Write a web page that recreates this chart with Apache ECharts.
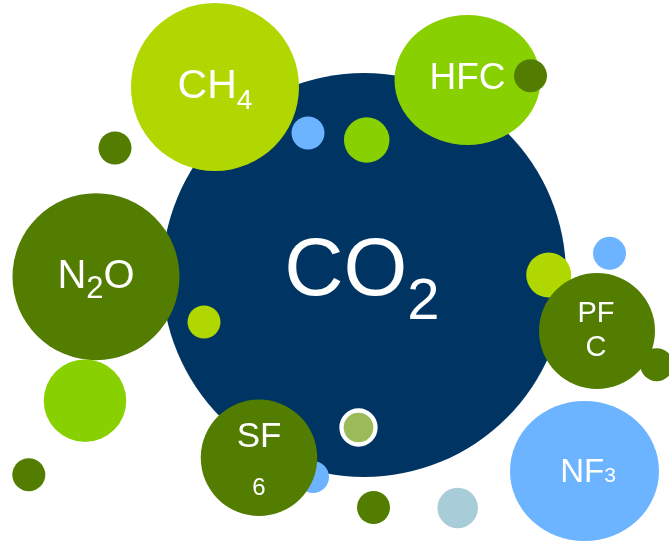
<!DOCTYPE html>
<html>
<head>
<meta charset="utf-8">
<style>
  html, body { margin: 0; padding: 0; background: #ffffff; }
  #chart { width: 669px; height: 542px; }
</style>
<script src="https://cdn.jsdelivr.net/npm/echarts@6/dist/echarts.min.js"></script>
</head>
<body>
<div id="chart"></div>
<script>
// ---- data (drawing order = stacking order) ----
const bubbleNames = ['CO2', 'dot1', 'dot2', 'CH4', 'HFC', 'dot3', 'dot4', 'dot5', 'dot6', 'N2O', 'dot7', 'dot8', 'dot9', 'SF6', 'dot10', 'dot11', 'dot12', 'NF3', 'dot13', 'PFC', 'dot14'];
const bubbleX     = [364, 313, 548.7, 215, 467.5, 530.5, 308, 366.7, 115, 96, 204, 85, 28.8, 259, 358.5, 373.5, 457.7, 584.5, 609.5, 597, 656.7];
const bubbleY     = [275, 477, 275, 87, 80, 75.7, 133, 140, 148, 276.7, 322, 400.7, 474.7, 457.7, 427.5, 507.5, 508, 471, 253.3, 331, 364.7];
const bubbleW     = [404, 32, 45, 168, 146, 33, 33, 45.5, 33, 167, 33, 82.5, 33, 116.5, 34, 33, 40.5, 149, 33, 116, 33];
const bubbleH     = [404, 32, 45, 168, 130, 33, 33, 45.5, 33, 167, 33, 82.5, 33, 116.5, 34, 33, 40.5, 140, 33, 116, 33];
const bubbleGroup = ['navy', 'sky', 'lime', 'lime', 'green', 'olive', 'sky', 'green', 'olive', 'olive', 'lime', 'green', 'olive', 'olive', 'ring', 'olive', 'mist', 'sky', 'sky', 'olive', 'olive'];

// ---- styles ----
const palette = {
  navy: '#003462', lime: '#b0d800', green: '#88d000', olive: '#527d00',
  sky: '#6cb4ff', mist: '#a8ccd8', ring: '#9bbb59'
};
const FONT = '"Liberation Sans", Arial, sans-serif';
const labelStyles = {
  CO2: { formatter: '{m|CO}{s|2}', offset: [-2, -3],
         rich: { m: { fontSize: 82 }, s: { fontSize: 58, padding: [62, 0, 0, 0] } } },
  CH4: { formatter: '{m|CH}{s|4}', offset: [0, 0],
         rich: { m: { fontSize: 41 }, s: { fontSize: 28, padding: [29, 0, 0, 0] } } },
  N2O: { formatter: '{m|N}{s|2}{m|O}', offset: [0, 0],
         rich: { m: { fontSize: 40 }, s: { fontSize: 31, padding: [26, 0, 0, 0] } } },
  HFC: { formatter: '{m|HFC}', offset: [0, -1],
         rich: { m: { fontSize: 37 } } },
  NF3: { formatter: '{m|NF}{s|3}', offset: [3.5, 2],
         rich: { m: { fontSize: 33 }, s: { fontSize: 21, padding: [7, 0, 0, 0] } } },
  PFC: { formatter: '{m|PF}\n{m|C}', offset: [-1, 0],
         rich: { m: { fontSize: 29, lineHeight: 33.4 } } },
  SF6: { formatter: '{m|SF}\n{s|6}', offset: [0, 5],
         rich: { m: { fontSize: 35, lineHeight: 51 }, s: { fontSize: 24, lineHeight: 51 } } }
};

const data = bubbleNames.map((name, i) => {
  const g = bubbleGroup[i];
  const item = {
    name: name,
    value: [bubbleX[i], bubbleY[i]],
    symbolSize: [bubbleW[i], bubbleH[i]],
    itemStyle: { color: palette[g], opacity: 1 }
  };
  if (g === 'ring') {
    item.itemStyle.borderColor = '#ffffff';
    item.itemStyle.borderWidth = 4.3;
  }
  const ls = labelStyles[name];
  if (ls) {
    const rich = {};
    Object.keys(ls.rich).forEach(k => {
      rich[k] = Object.assign({ color: '#ffffff', fontFamily: FONT }, ls.rich[k]);
    });
    item.label = {
      show: true, position: 'inside', formatter: ls.formatter,
      offset: ls.offset, rich: rich, align: 'center', verticalAlign: 'middle'
    };
  } else {
    item.label = { show: false };
  }
  return item;
});

const chart = echarts.init(document.getElementById('chart'), null, { renderer: 'canvas' });
chart.setOption({
  backgroundColor: '#ffffff',
  animation: false,
  grid: { left: 0, right: 0, top: 0, bottom: 0 },
  xAxis: { type: 'value', min: 0, max: 669, show: false },
  yAxis: { type: 'value', min: 0, max: 542, inverse: true, show: false },
  series: [{
    type: 'scatter',
    symbol: 'circle',
    data: data,
    emphasis: { disabled: true },
    silent: true
  }]
});
</script>
</body>
</html>
